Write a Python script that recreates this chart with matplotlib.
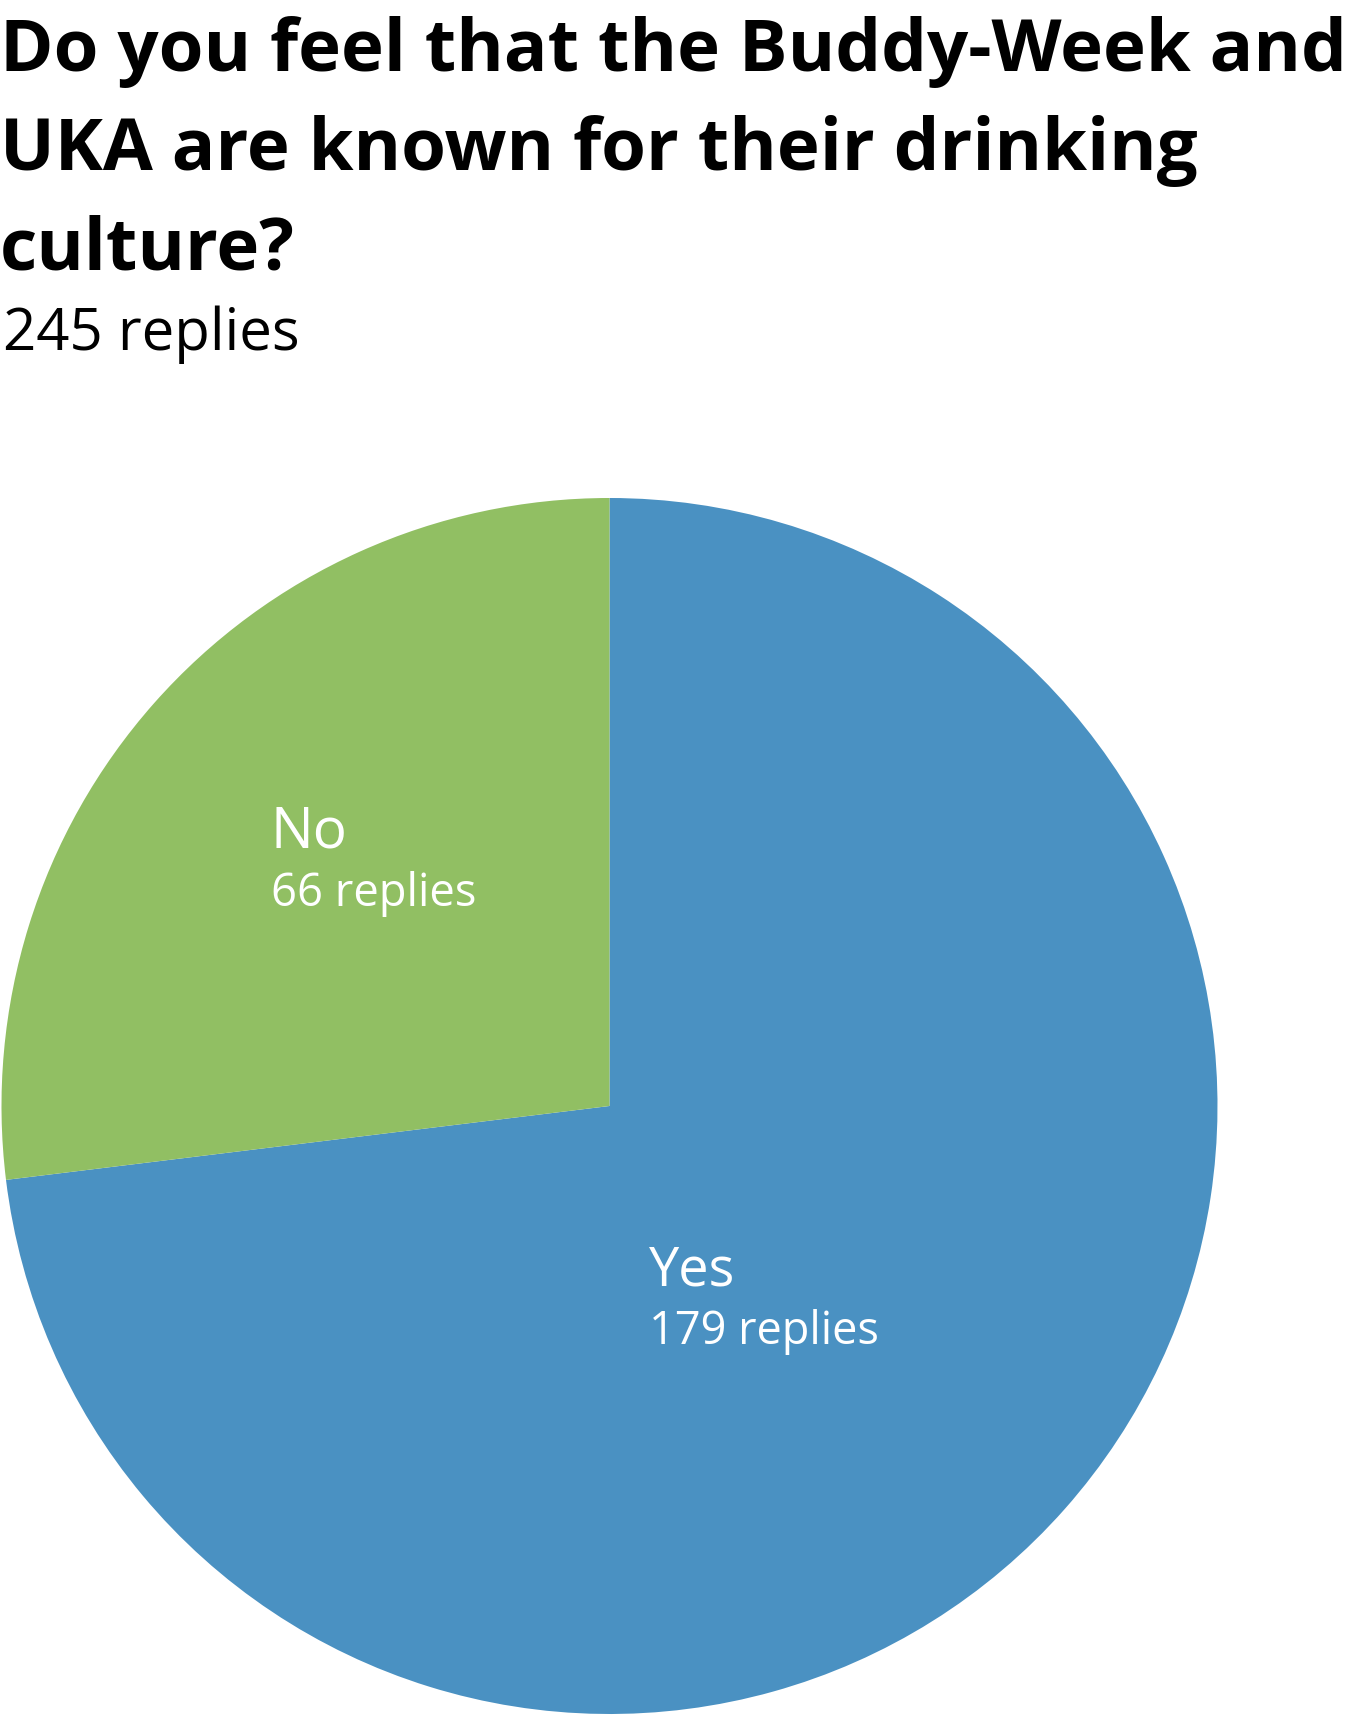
import matplotlib
matplotlib.use("Agg")
import matplotlib.pyplot as plt

title_lines = ["Do you feel that the Buddy-Week and",
               "UKA are known for their drinking",
               "culture?"]
subtitle = "245 replies"
categories = ["Yes", "No"]
values = [179, 66]
value_labels = ["179 replies", "66 replies"]
colors = ["#4a91c2", "#91bf63"]

W, H = 1347, 1716
fig = plt.figure(figsize=(W / 100, H / 100), dpi=100)
ax = fig.add_axes([0, 0, 1, 1])
ax.set_xlim(0, W)
ax.set_ylim(0, H)
ax.set_aspect("equal")
ax.axis("off")

ax.pie(values, colors=colors, startangle=90, counterclock=False,
       center=(609.5, H - 1106), radius=608, frame=True,
       wedgeprops=dict(linewidth=0))
ax.set_xlim(0, W)
ax.set_ylim(0, H)
ax.axis("off")

fig.canvas.draw()
renderer = fig.canvas.get_renderer()


def fit_text(x, y_top_coord, s, target_w, weight="normal", color="black", family="Open Sans"):
    t = ax.text(x, H - y_top_coord, s, fontsize=40, fontweight=weight, color=color,
                family=family, va="baseline", ha="left")
    w = t.get_window_extent(renderer).width
    t.set_fontsize(40 * target_w / w)
    return t


t1 = fit_text(0, 71, title_lines[0], 1344, weight="bold")
fs = t1.get_fontsize()
for line, yb in zip(title_lines[1:], [170, 270]):
    ax.text(0, H - yb, line, fontsize=fs, fontweight="bold", family="Open Sans",
            va="baseline", ha="left")

fit_text(3, 350, subtitle, 296)

fit_text(271, 848, categories[1], 77, color="white")
fit_text(271, 906, value_labels[1], 205, color="white")
fit_text(649, 1286, categories[0], 86, color="white")
fit_text(649, 1344, value_labels[0], 230, color="white")

fig.savefig("out.png", dpi=100)
